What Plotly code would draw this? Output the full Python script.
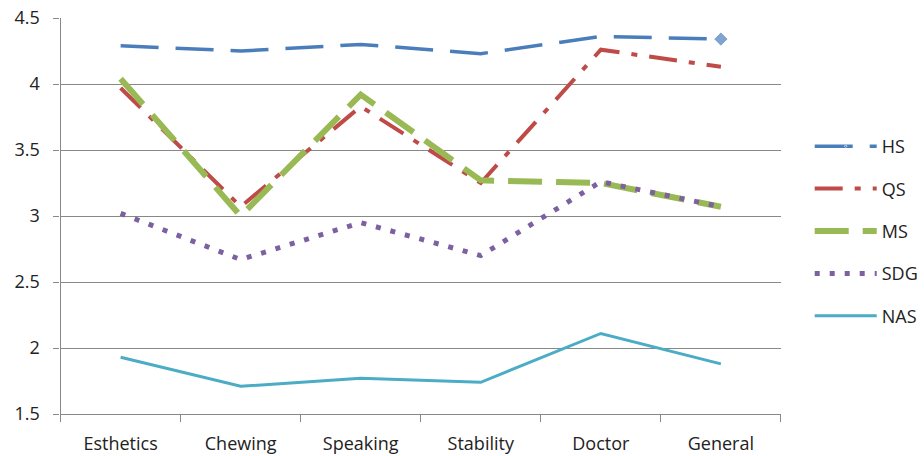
import plotly.graph_objects as go

categories = ["Esthetics", "Chewing", "Speaking", "Stability", "Doctor", "General"]
hs = [4.29, 4.25, 4.30, 4.23, 4.36, 4.34]
qs = [3.97, 3.07, 3.83, 3.25, 4.26, 4.13]
ms = [4.04, 3.00, 3.92, 3.27, 3.25, 3.07]
sdg = [3.02, 2.67, 2.95, 2.70, 3.26, 3.07]
nas = [1.93, 1.71, 1.77, 1.74, 2.11, 1.88]

W, H = 924, 456
PL, PR, PT, PB = 61, 786, 18, 414  # plot area in pixels

fig = go.Figure()

hs_sizes = [0] * (len(hs) - 1) + [11]
fig.add_trace(go.Scatter(x=categories, y=hs, name="HS", mode="lines+markers",
                         line=dict(color="#4a7ebb", width=3.5, dash="38px,17px"),
                         marker=dict(symbol="diamond", size=hs_sizes, color="#4a7ebb"),
                         legendgroup="a"))
fig.add_trace(go.Scatter(x=categories, y=qs, name="QS", mode="lines",
                         line=dict(color="#be4b48", width=4, dash="28px,12px,6px,12px"),
                         legendgroup="b"))
fig.add_trace(go.Scatter(x=categories, y=ms, name="MS", mode="lines",
                         line=dict(color="#98b954", width=6, dash="34px,14px"),
                         legendgroup="c"))
fig.add_trace(go.Scatter(x=categories, y=sdg, name="SDG", mode="lines",
                         line=dict(color="#7d60a0", width=5, dash="5px,10px"),
                         legendgroup="d"))
fig.add_trace(go.Scatter(x=categories, y=nas, name="NAS", mode="lines",
                         line=dict(color="#4bacc6", width=3),
                         legendgroup="e"))

font = "Open Sans, Liberation Sans, sans-serif"
fig.update_layout(
    width=W, height=H,
    margin=dict(l=0, r=0, t=0, b=0, pad=0),
    paper_bgcolor="white", plot_bgcolor="white",
    font=dict(family=font, size=18, color="#222"),
    showlegend=True,
    legend=dict(x=815 / W, y=1 - 231 / H, xanchor="left", yanchor="middle",
                xref="paper", yref="paper",
                font=dict(size=18), tracegroupgap=16, itemwidth=62),
)
fig.update_xaxes(domain=[PL / W, PR / W], automargin=False,
                 range=[-0.5, 5.5], showgrid=False, showline=True, linecolor="#888",
                 linewidth=1.3, ticks="outside", tickson="boundaries", ticklen=7,
                 tickcolor="#888", zeroline=False, ticklabelstandoff=13)
fig.update_yaxes(domain=[1 - PB / H, 1 - PT / H], automargin=False,
                 range=[1.5, 4.5], dtick=0.5, showgrid=True, gridcolor="#888",
                 gridwidth=1.3, showline=True, linecolor="#888", linewidth=1.3,
                 ticks="outside", ticklen=6, tickcolor="#888", zeroline=False,
                 ticklabelstandoff=10, ticklabeloverflow="allow")

fig.write_html("out.html", config={"displayModeBar": False},
               post_script="document.body.style.margin='0';")
